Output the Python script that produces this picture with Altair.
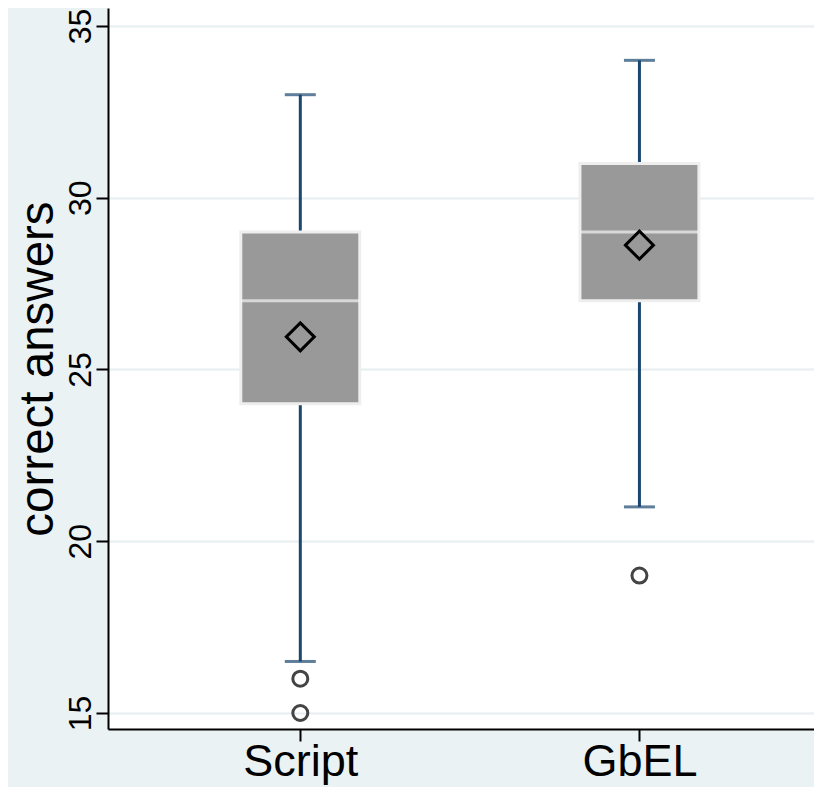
import altair as alt
import pandas as pd

groups = ["Script", "GbEL"]
q1 = [24, 27]
median = [27, 29]
q3 = [29, 31]
mean = [25.95, 28.62]
whisker_low = [16.5, 21]
whisker_high = [33, 34]
outlier_group = ["Script", "Script", "GbEL"]
outlier_value = [16, 15, 19]
y_ticks = [15, 20, 25, 30, 35]

idx = {g: i for i, g in enumerate(groups)}
stats = pd.DataFrame({
    "group": groups, "gi": [idx[g] for g in groups],
    "q1": q1, "median": median, "q3": q3,
    "mean": mean, "lo": whisker_low, "hi": whisker_high,
})
outliers = pd.DataFrame({"group": outlier_group,
                         "gi": [idx[g] for g in outlier_group],
                         "value": outlier_value})

FONT = "Liberation Sans"
NAVY = "#1a476f"

W, H = 706, 721
xscale = alt.Scale(domain=[-0.5523, 1.5], nice=False, zero=False)
yscale = alt.Scale(domain=[14.534, 35.524], nice=False, zero=False)

label_expr = " : ".join(
    [f"datum.value == {i} ? '{g}'" for i, g in enumerate(groups)] + ["''"])

x_enc = alt.X("gi:Q", scale=xscale,
              axis=alt.Axis(title=None, values=list(range(len(groups))),
                            labelExpr=label_expr,
                            labelFontSize=45, labelFont=FONT,
                            labelColor="black", labelAngle=0,
                            labelBaseline="alphabetic", labelPadding=34,
                            labelFlush=False, labelOverlap=False,
                            tickSize=12, tickWidth=2, tickColor="black",
                            domainColor="black", domainWidth=2, grid=False))

base = alt.Chart(stats)

whisk_up = base.mark_rule(color=NAVY, strokeWidth=3).encode(
    x=x_enc,
    y=alt.Y("q3:Q", scale=yscale,
            axis=alt.Axis(title="correct answers", values=y_ticks,
                          titleFontSize=47.5, titleFont=FONT, titleColor="black",
                          titleFontWeight="normal", titleAngle=270,
                          titleAlign="center", titleBaseline="alphabetic",
                          titleX=-56, titleY=H / 2,
                          labelFontSize=32, labelFont=FONT, labelColor="black",
                          labelAngle=270, labelAlign="center",
                          labelBaseline="alphabetic", labelPadding=6,
                          labelFlush=False,
                          tickSize=12, tickWidth=2, tickColor="black",
                          domainColor="black", domainWidth=2,
                          grid=True, gridColor="#e6eef0", gridWidth=2)),
    y2="hi:Q",
)
whisk_lo = base.mark_rule(color=NAVY, strokeWidth=3).encode(
    x="gi:Q", y="lo:Q", y2="q1:Q")
cap_hi = base.mark_tick(color=NAVY, size=31, thickness=3, orient="horizontal").encode(
    x="gi:Q", y="hi:Q")
cap_lo = base.mark_tick(color=NAVY, size=31, thickness=3, orient="horizontal").encode(
    x="gi:Q", y="lo:Q")
box = base.mark_bar(size=119, color="#999999", stroke="#eeeeee", strokeWidth=3,
                    orient="vertical").encode(
    x="gi:Q", y="q1:Q", y2="q3:Q")
med = base.mark_tick(color="#f2f2f2", size=119, thickness=3, orient="horizontal").encode(
    x="gi:Q", y="median:Q")
mean_pt = base.mark_point(shape="diamond", size=784, filled=False, color="black",
                          strokeWidth=3, opacity=1).encode(
    x="gi:Q", y="mean:Q")
out_pt = alt.Chart(outliers).mark_point(shape="circle", size=225, filled=False,
                                        color="#444444", strokeWidth=3, opacity=1).encode(
    x="gi:Q", y="value:Q")

chart = alt.layer(whisk_up, whisk_lo, cap_hi, cap_lo, box, med, mean_pt, out_pt).properties(
    width=W, height=H,
    background="#eaf2f3",
    autosize=alt.AutoSizeParams(type="none"),
    padding={"left": 100, "top": 0, "right": 0, "bottom": 58},
).configure_view(fill="white", stroke=None)

chart.save("out.html", embed_options={"renderer": "svg", "actions": False})
